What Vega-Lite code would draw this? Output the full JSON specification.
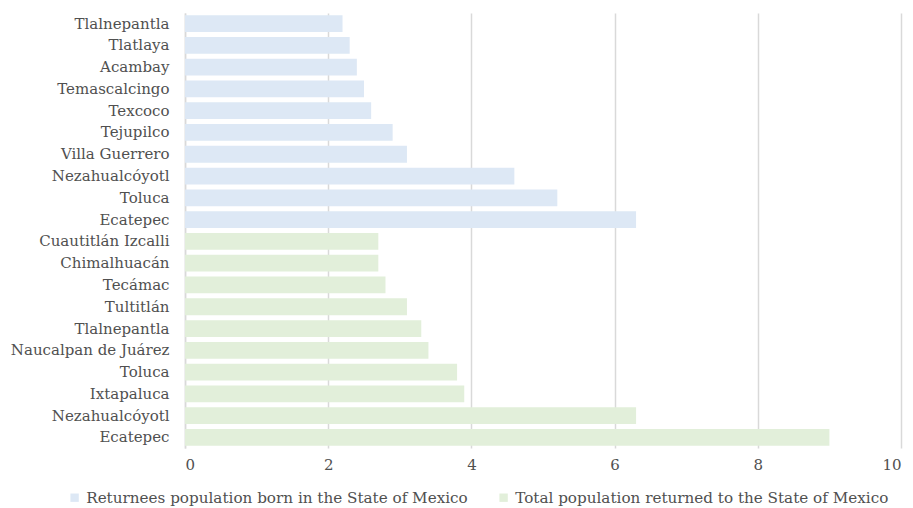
{
  "$schema": "https://vega.github.io/schema/vega-lite/v6.json",
  "autosize": {"type": "none"},
  "width": 716,
  "height": 435,
  "padding": {"left": 185, "top": 13, "right": 12, "bottom": 60},
  "background": "white",
  "data": {
    "values": [
      {"key": "Tlalnepantla|r", "value": 2.2, "series": "Returnees population born in the State of Mexico"},
      {"key": "Tlatlaya|r", "value": 2.3, "series": "Returnees population born in the State of Mexico"},
      {"key": "Acambay|r", "value": 2.4, "series": "Returnees population born in the State of Mexico"},
      {"key": "Temascalcingo|r", "value": 2.5, "series": "Returnees population born in the State of Mexico"},
      {"key": "Texcoco|r", "value": 2.6, "series": "Returnees population born in the State of Mexico"},
      {"key": "Tejupilco|r", "value": 2.9, "series": "Returnees population born in the State of Mexico"},
      {"key": "Villa Guerrero|r", "value": 3.1, "series": "Returnees population born in the State of Mexico"},
      {"key": "Nezahualcóyotl|r", "value": 4.6, "series": "Returnees population born in the State of Mexico"},
      {"key": "Toluca|r", "value": 5.2, "series": "Returnees population born in the State of Mexico"},
      {"key": "Ecatepec|r", "value": 6.3, "series": "Returnees population born in the State of Mexico"},
      {"key": "Cuautitlán Izcalli|t", "value": 2.7, "series": "Total population returned to the State of Mexico"},
      {"key": "Chimalhuacán|t", "value": 2.7, "series": "Total population returned to the State of Mexico"},
      {"key": "Tecámac|t", "value": 2.8, "series": "Total population returned to the State of Mexico"},
      {"key": "Tultitlán|t", "value": 3.1, "series": "Total population returned to the State of Mexico"},
      {"key": "Tlalnepantla|t", "value": 3.3, "series": "Total population returned to the State of Mexico"},
      {"key": "Naucalpan de Juárez|t", "value": 3.4, "series": "Total population returned to the State of Mexico"},
      {"key": "Toluca|t", "value": 3.8, "series": "Total population returned to the State of Mexico"},
      {"key": "Ixtapaluca|t", "value": 3.9, "series": "Total population returned to the State of Mexico"},
      {"key": "Nezahualcóyotl|t", "value": 6.3, "series": "Total population returned to the State of Mexico"},
      {"key": "Ecatepec|t", "value": 9.0, "series": "Total population returned to the State of Mexico"}
    ]
  },
  "mark": {"type": "bar"},
  "encoding": {
    "y": {
      "field": "key",
      "type": "nominal",
      "sort": null,
      "title": null,
      "scale": {"paddingInner": 0.23, "paddingOuter": 0.1},
      "axis": {
        "labelExpr": "split(datum.label, '|')[0]",
        "ticks": false,
        "labelPadding": 16,
        "labelFont": "DejaVu Serif",
        "labelFontSize": 15,
        "labelColor": "#505050",
        "domainColor": "#d9d9d9",
        "domainWidth": 1.5
      }
    },
    "x": {
      "field": "value",
      "type": "quantitative",
      "title": null,
      "scale": {"domain": [0, 10]},
      "axis": {
        "values": [0, 2, 4, 6, 8, 10],
        "domain": false,
        "ticks": false,
        "labelPadding": 9,
        "labelFont": "DejaVu Serif",
        "labelFontSize": 15,
        "labelColor": "#505050",
        "gridColor": "#d9d9d9",
        "gridWidth": 1.5
      }
    },
    "color": {
      "field": "series",
      "type": "nominal",
      "scale": {
        "domain": ["Returnees population born in the State of Mexico", "Total population returned to the State of Mexico"],
        "range": ["#dde8f5", "#e2efda"]
      },
      "legend": {
        "title": null,
        "orient": "none",
        "direction": "horizontal",
        "legendX": -118,
        "legendY": 477,
        "symbolType": "square",
        "symbolSize": 70,
        "symbolStrokeWidth": 0,
        "labelFont": "DejaVu Serif",
        "labelFontSize": 15.2,
        "labelColor": "#505050",
        "labelLimit": 500,
        "columnPadding": 28
      }
    }
  },
  "config": {"view": {"stroke": null}}
}
